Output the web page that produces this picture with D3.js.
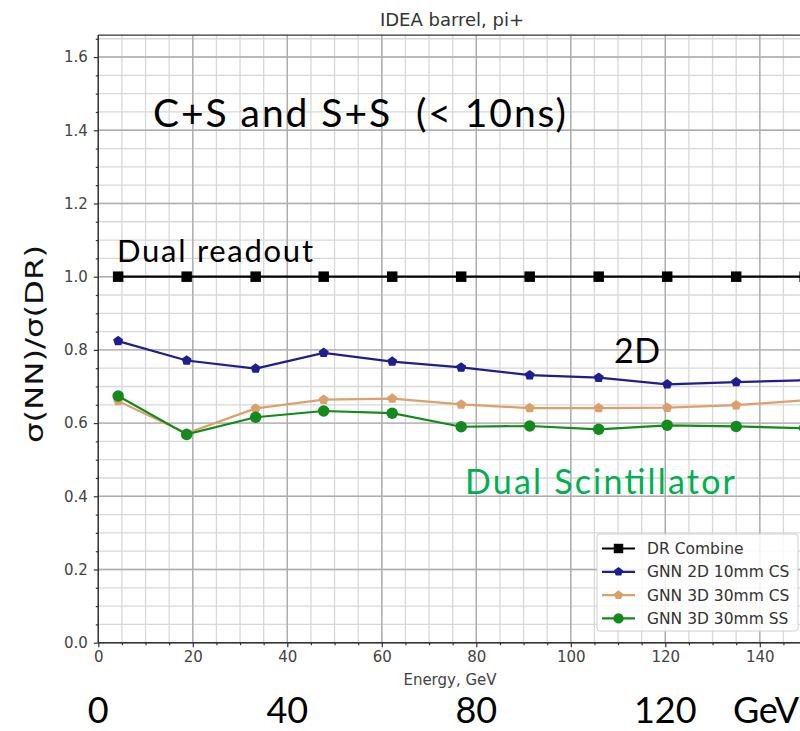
<!DOCTYPE html>
<html>
<head>
<meta charset="utf-8">
<script src="https://cdn.jsdelivr.net/npm/d3@7"></script>
<style>
  html, body { margin: 0; padding: 0; background: #fff; }
  svg { display: block; }
  .overlay { font-family: Lato, "Open Sans", sans-serif; }
</style>
</head>
<body>
<svg id="chart" width="800" height="731"></svg>
<script>
// Beam energies (GeV) of the measured points
const energies = [4.2, 18.7, 33.3, 47.7, 62.2, 76.8, 91.3, 105.9, 120.4, 135.0, 149.5];

// Resolution ratio sigma(NN)/sigma(DR) for each configuration
const drCombine   = [1.0, 1.0, 1.0, 1.0, 1.0, 1.0, 1.0, 1.0, 1.0, 1.0, 1.0];
const gnn2d10CS   = [0.824, 0.771, 0.749, 0.792, 0.768, 0.752, 0.731, 0.724, 0.706, 0.712, 0.717];
const gnn3d30CS   = [0.660, 0.572, 0.640, 0.664, 0.667, 0.651, 0.641, 0.641, 0.642, 0.649, 0.662];
const gnn3d30SS   = [0.674, 0.569, 0.616, 0.633, 0.627, 0.590, 0.592, 0.583, 0.594, 0.591, 0.586];

const seriesNames = ["DR Combine", "GNN 2D 10mm CS", "GNN 3D 30mm CS", "GNN 3D 30mm SS"];

const xTicks = [0, 20, 40, 60, 80, 100, 120, 140];
const yTicks = [0.0, 0.2, 0.4, 0.6, 0.8, 1.0, 1.2, 1.4, 1.6];
const bigXLabels = ["0", "40", "80", "120"];
const bigXValues = [0, 40, 80, 120];

const series = [
  { name: seriesNames[0], values: drCombine, color: "#000000", marker: "square", size: 10.5 },
  { name: seriesNames[1], values: gnn2d10CS, color: "#1e1e90", marker: "pentagon", size: 10 },
  { name: seriesNames[2], values: gnn3d30CS, color: "#dba06c", marker: "pentagon", size: 10 },
  { name: seriesNames[3], values: gnn3d30SS, color: "#128a1c", marker: "circle", size: 11.5 }
];

const svg = d3.select("#chart");
const FONT = "DejaVu Sans, sans-serif";

const plotLeft = 98.3, plotBottom = 642.7, plotTop = 35.1;
const xMax = 152;
const x = d3.scaleLinear().domain([0, xMax]).range([plotLeft, plotLeft + xMax * 4.725]);
const y = d3.scaleLinear().domain([0, 1.66]).range([plotBottom, plotTop]);
const plotRight = x(xMax);

// Grid: minor then major
const grid = svg.append("g");
const xMinor = d3.range(0, xMax + 0.01, 5);
const yMinor = d3.range(0, 1.66, 0.05);
grid.selectAll("line.xmin").data(xMinor).enter().append("line")
  .attr("x1", d => x(d)).attr("x2", d => x(d)).attr("y1", plotTop).attr("y2", plotBottom)
  .attr("stroke", "#d8d8d8").attr("stroke-width", 1.3);
grid.selectAll("line.ymin").data(yMinor).enter().append("line")
  .attr("x1", plotLeft).attr("x2", plotRight).attr("y1", d => y(d)).attr("y2", d => y(d))
  .attr("stroke", "#d8d8d8").attr("stroke-width", 1.3);
grid.selectAll("line.xmaj").data(xTicks).enter().append("line")
  .attr("x1", d => x(d)).attr("x2", d => x(d)).attr("y1", plotTop).attr("y2", plotBottom)
  .attr("stroke", "#adadad").attr("stroke-width", 1.4);
grid.selectAll("line.ymaj").data(yTicks).enter().append("line")
  .attr("x1", plotLeft).attr("x2", plotRight).attr("y1", d => y(d)).attr("y2", d => y(d))
  .attr("stroke", "#adadad").attr("stroke-width", 1.4);

// Axes
function styleAxis(g) {
  g.attr("font-family", FONT).attr("font-size", 15);
  g.select(".domain").remove();
  g.selectAll(".tick line").attr("stroke", "#333").attr("stroke-width", 1.2);
  g.selectAll(".tick text").attr("fill", "#444");
}
svg.append("g").attr("transform", `translate(0,${plotBottom})`)
  .call(d3.axisBottom(x).tickValues(xTicks).tickFormat(d3.format("d")).tickSize(4.5).tickPadding(4.5))
  .call(styleAxis);
svg.append("g").attr("transform", `translate(0,${plotBottom})`)
  .call(d3.axisBottom(x).tickValues(xMinor.filter(v => v % 20 !== 0)).tickFormat("").tickSize(2.5))
  .call(styleAxis);
svg.append("g").attr("transform", `translate(${plotLeft},0)`)
  .call(d3.axisLeft(y).tickValues(yTicks).tickFormat(d3.format(".1f")).tickSize(4.5).tickPadding(6))
  .call(styleAxis);
svg.append("g").attr("transform", `translate(${plotLeft},0)`)
  .call(d3.axisLeft(y).tickValues(yMinor.filter((v, i) => i % 4 !== 0)).tickFormat("").tickSize(2.5))
  .call(styleAxis);

// Spines
svg.append("line").attr("x1", plotLeft).attr("x2", plotLeft).attr("y1", plotTop).attr("y2", plotBottom)
  .attr("stroke", "#333").attr("stroke-width", 1.4);
svg.append("line").attr("x1", plotLeft).attr("x2", plotRight).attr("y1", plotBottom).attr("y2", plotBottom)
  .attr("stroke", "#333").attr("stroke-width", 1.4);
svg.append("line").attr("x1", plotLeft).attr("x2", plotRight).attr("y1", plotTop).attr("y2", plotTop)
  .attr("stroke", "#333").attr("stroke-width", 1.4);

// Title and axis labels
svg.append("text").attr("x", 452).attr("y", 26).attr("text-anchor", "middle")
  .attr("font-family", FONT).attr("font-size", 18).attr("fill", "#333")
  .text("IDEA barrel, pi+");
svg.append("text").attr("x", 450).attr("y", 685).attr("text-anchor", "middle")
  .attr("font-family", FONT).attr("font-size", 15).attr("fill", "#444")
  .text("Energy, GeV");
svg.append("text").attr("transform", "translate(43,344) rotate(-90)").attr("text-anchor", "middle")
  .attr("font-family", FONT).attr("font-size", 25).attr("fill", "#111")
  .attr("textLength", 198).attr("lengthAdjust", "spacingAndGlyphs")
  .text("σ(NN)/σ(DR)");

// Marker shapes
function markerPath(kind, size) {
  const h = size / 2;
  if (kind === "square") return `M${-h},${-h}H${h}V${h}H${-h}Z`;
  if (kind === "pentagon") {
    const pts = d3.range(5).map(i => {
      const a = -Math.PI / 2 + i * 2 * Math.PI / 5;
      return [h * 1.05 * Math.cos(a), h * 1.05 * Math.sin(a)];
    });
    return "M" + pts.map(p => p.join(",")).join("L") + "Z";
  }
  return d3.symbol(d3.symbolCircle, Math.PI * h * h)();
}

// Series lines and markers
const plot = svg.append("g");
const line = d3.line().x((d, i) => x(energies[i])).y(d => y(d));
series.forEach(s => {
  plot.append("path").datum(s.values).attr("d", line)
    .attr("fill", "none").attr("stroke", s.color).attr("stroke-width", 2.2);
  plot.selectAll(null).data(s.values).enter().append("path")
    .attr("transform", (d, i) => `translate(${x(energies[i])},${y(d)})`)
    .attr("d", markerPath(s.marker, s.size)).attr("fill", s.color);
});

// Legend
const lg = svg.append("g").attr("transform", "translate(597,534)");
lg.append("rect").attr("x", 0).attr("y", 0).attr("width", 201).attr("height", 97).attr("rx", 3)
  .attr("fill", "#fff").attr("fill-opacity", 0.85).attr("stroke", "#d0d0d0");
series.forEach((s, i) => {
  const yy = 14.5 + i * 23.3;
  lg.append("line").attr("x1", 5).attr("x2", 38).attr("y1", yy).attr("y2", yy)
    .attr("stroke", s.color).attr("stroke-width", 2.2);
  lg.append("path").attr("transform", `translate(21.5,${yy})`)
    .attr("d", markerPath(s.marker, s.size * 0.9)).attr("fill", s.color);
  lg.append("text").attr("x", 50).attr("y", yy + 5.5)
    .attr("font-family", FONT).attr("font-size", 15.5).attr("fill", "#333")
    .text(s.name);
});

// Annotations
svg.append("text").attr("class", "overlay").attr("x", 153).attr("y", 127)
  .attr("font-size", 39).attr("fill", "#000").attr("xml:space", "preserve")
  .attr("textLength", 413).attr("lengthAdjust", "spacing")
  .text("C+S and S+S  (< 10ns)");
svg.append("text").attr("class", "overlay").attr("x", 117).attr("y", 262)
  .attr("font-size", 31).attr("fill", "#000")
  .attr("textLength", 196).attr("lengthAdjust", "spacing").text("Dual readout");
svg.append("text").attr("class", "overlay").attr("x", 614).attr("y", 363)
  .attr("font-size", 34).attr("fill", "#000")
  .attr("textLength", 46).attr("lengthAdjust", "spacing").text("2D");
svg.append("text").attr("class", "overlay").attr("x", 465).attr("y", 494)
  .attr("font-size", 34).attr("fill", "#00b050")
  .attr("textLength", 270).attr("lengthAdjust", "spacing").text("Dual Scintillator");

// Large energy labels under the axis
svg.selectAll("text.big").data(bigXValues).enter().append("text")
  .attr("class", "overlay").attr("x", d => x(d)).attr("y", 723).attr("text-anchor", "middle")
  .attr("font-size", 36).attr("fill", "#000").text((d, i) => bigXLabels[i]);
svg.append("text").attr("class", "overlay").attr("x", 733).attr("y", 723)
  .attr("font-size", 36).attr("fill", "#000")
  .attr("textLength", 66).attr("lengthAdjust", "spacing").text("GeV");
</script>
</body>
</html>
